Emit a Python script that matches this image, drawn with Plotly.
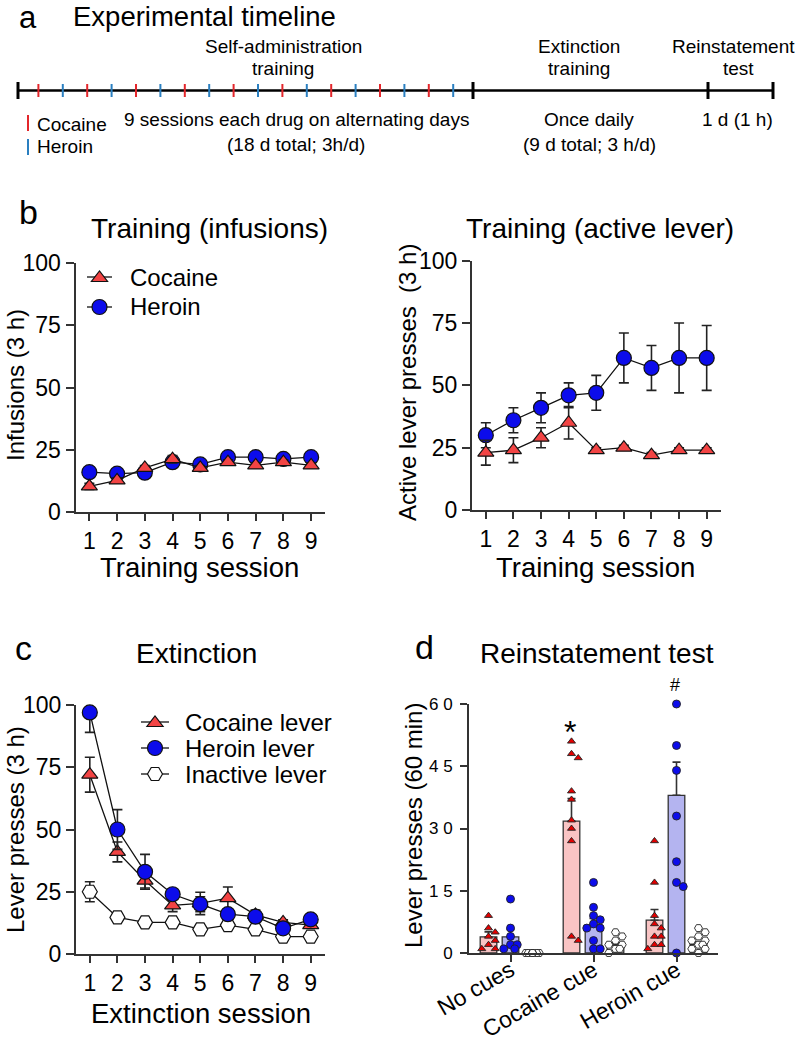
import plotly.graph_objects as go

W, H = 800, 1044


def px(x):
    return x / W


def py(y):
    return 1 - y / H


FONT = "Arial, Liberation Sans, sans-serif"
RED = "#f24444"
RED_D = "#e30000"
BLUE = "#0c0ceb"
AXIS = "#333333"
TL_RED = "#e3262b"
TL_BLUE = "#2a7fc0"

# ---------------- data ----------------
SESSIONS = [1, 2, 3, 4, 5, 6, 7, 8, 9]

# b - training infusions
INF_COCAINE = [10.3, 12.7, 17.7, 21.2, 17.7, 20.0, 18.7, 20.0, 18.7]
INF_COCAINE_SEM = [1.2, 1.0, 1.0, 1.5, 1.0, 1.0, 1.0, 1.0, 1.0]
INF_HEROIN = [16.0, 15.4, 15.8, 20.0, 19.1, 22.0, 22.0, 21.3, 22.0]
INF_HEROIN_SEM = [1.5, 1.2, 1.2, 1.5, 1.2, 1.5, 1.5, 1.5, 1.5]

# b - training active lever
ACT_COCAINE = [23, 24, 29, 35, 24, 25, 22, 24, 24]
ACT_COCAINE_SEM = [5, 5, 4, 6.5, 1, 1, 1, 1, 1]
ACT_HEROIN = [30, 36, 41, 46, 47, 61, 57, 61, 61]
ACT_HEROIN_SEM = [5, 5, 6, 5, 7, 10, 9, 14, 13]

# c - extinction
EXT_COCAINE = [72, 41, 29.5, 19.5, 20.3, 22.4, 15.7, 12.7, 11.6]
EXT_COCAINE_SEM = [7, 4, 3, 2.5, 4.5, 4.5, 2, 1, 1]
EXT_HEROIN = [97, 50, 33, 24, 20, 16, 15, 10.3, 13.9]
EXT_HEROIN_SEM = [8, 8, 7, 2, 3, 2, 2, 1, 1]
EXT_INACTIVE = [25, 14.7, 12.7, 12.7, 9.9, 11.6, 9.9, 7, 7]
EXT_INACTIVE_SEM = [4, 1, 1, 1, 1, 1, 1, 1, 1]

# d - reinstatement test
CUE_CONDITIONS = ["No cues", "Cocaine cue", "Heroin cue"]
REIN_COC_MEAN = [3.9, 31.8, 7.9]
REIN_COC_SEM = [1.2, 5.4, 2.6]
REIN_HER_MEAN = [3.9, 6.8, 38.0]
REIN_HER_SEM = [1.8, 1.5, 8.0]
REIN_INA_MEAN = [0.0, 1.9, 2.1]
REIN_INA_SEM = [0.0, 0.5, 0.6]
REIN_COC_POINTS = [[9, 6, 5, 4, 3, 2, 1, 1],
                   [51, 48, 47, 39, 37, 32, 30, 27, 4, 3],
                   [27, 17, 9, 7, 6, 4, 4, 2, 2, 1]]
REIN_HER_POINTS = [[13, 6, 4, 2, 2, 1, 1],
                   [17, 11, 9, 8, 7, 6, 6, 3, 1, 1],
                   [60, 50, 44, 33, 22, 17, 16, 0]]
REIN_INA_POINTS = [[0, 0, 0, 0, 0, 0, 0, 0, 0],
                   [5, 4, 3, 2, 2, 1, 1, 0],
                   [6, 5, 4, 3, 3, 2, 2, 1, 1, 0]]

# a - timeline
TRAINING_DAYS = list(range(1, 19))
DRUG_BY_DAY = ["Cocaine", "Heroin"] * 9

# ---------------- figure ----------------
fig = go.Figure()


def err(arr, **kw):
    d = dict(type="data", array=arr, color="#222222", thickness=1.6, width=5, visible=True)
    d.update(kw)
    return d


LINE = dict(color="#111111", width=1.3)


def line_trace(x, y, e, symbol, color, size, xa, ya, name):
    return go.Scatter(x=x, y=y, mode="lines+markers", name=name, showlegend=False,
                      line=LINE, cliponaxis=False,
                      marker=dict(symbol=symbol, color=color, size=size,
                                  line=dict(color="#111111", width=1.2)),
                      error_y=err(e), xaxis=xa, yaxis=ya)


# b left
fig.add_trace(line_trace(SESSIONS, INF_HEROIN, INF_HEROIN_SEM, "circle", BLUE, 15, "x", "y", "Heroin"))
fig.add_trace(line_trace(SESSIONS, INF_COCAINE, INF_COCAINE_SEM, "triangle-up", RED, 14, "x", "y", "Cocaine"))
# b right
fig.add_trace(line_trace(SESSIONS, ACT_HEROIN, ACT_HEROIN_SEM, "circle", BLUE, 15, "x2", "y2", "Heroin"))
fig.add_trace(line_trace(SESSIONS, ACT_COCAINE, ACT_COCAINE_SEM, "triangle-up", RED, 14, "x2", "y2", "Cocaine"))
# c
fig.add_trace(line_trace(SESSIONS, EXT_INACTIVE, EXT_INACTIVE_SEM, "hexagon2", "white", 15, "x3", "y3", "Inactive lever"))
fig.add_trace(line_trace(SESSIONS, EXT_COCAINE, EXT_COCAINE_SEM, "triangle-up", RED, 14, "x3", "y3", "Cocaine lever"))
fig.add_trace(line_trace(SESSIONS, EXT_HEROIN, EXT_HEROIN_SEM, "circle", BLUE, 15, "x3", "y3", "Heroin lever"))

# d - bars + points
GROUP_OFFSETS = [-0.265, 0.0, 0.265]
BAR_WIDTH = 0.2
D_YPX = 249 / 60.0   # pixels per unit (y)
D_XPX = 83.0         # pixels per category (x)


def swarm(values, diam=7.0, step=4.2):
    placed, out = [], []
    cands = [0, step, -step, 1.6 * step, -1.6 * step]
    for v in values:
        yv = v * D_YPX
        chosen, best_c, best_d = None, 0, -1
        for c in cands:
            d = min([((c - a) ** 2 + (yv - b) ** 2) ** 0.5 for a, b in placed], default=1e9)
            if d >= diam:
                chosen = c
                break
            if d > best_d:
                best_d, best_c = d, c
        if chosen is None:
            chosen = best_c
        placed.append((chosen, yv))
        out.append(chosen / D_XPX)
    return out


bar_specs = [
    (REIN_COC_MEAN, REIN_COC_SEM, "#f9c4c4", REIN_COC_POINTS, "triangle-up", RED_D, 7, "Cocaine lever"),
    (REIN_HER_MEAN, REIN_HER_SEM, "#b4b4f0", REIN_HER_POINTS, "circle", BLUE, 8, "Heroin lever"),
    (REIN_INA_MEAN, REIN_INA_SEM, "#ffffff", REIN_INA_POINTS, "hexagon2", "white", 8, "Inactive lever"),
]
for k, (mean, sem, fill, pts, sym, mcol, msize, name) in enumerate(bar_specs):
    xs = [i + GROUP_OFFSETS[k] for i in range(len(CUE_CONDITIONS))]
    fig.add_trace(go.Bar(x=xs, y=mean, width=BAR_WIDTH, name=name, showlegend=False,
                         marker=dict(color=fill, line=dict(color="#333333", width=1.3)),
                         error_y=dict(type="data", symmetric=False, array=sem,
                                      arrayminus=[0] * len(sem), color="#333333",
                                      thickness=1.6, width=4),
                         xaxis="x4", yaxis="y4"))
for k, (mean, sem, fill, pts, sym, mcol, msize, name) in enumerate(bar_specs):
    px_all, py_all = [], []
    for i, vals in enumerate(pts):
        offs = swarm(vals)
        px_all += [i + GROUP_OFFSETS[k] + o for o in offs]
        py_all += list(vals)
    fig.add_trace(go.Scatter(x=px_all, y=py_all, mode="markers", showlegend=False, name=name,
                             cliponaxis=False,
                             marker=dict(symbol=sym, size=msize, color=mcol,
                                         line=dict(color="#222222", width=0.9)),
                             xaxis="x4", yaxis="y4"))


# ---------------- axes ----------------
def axis(**kw):
    d = dict(showline=True, linecolor=AXIS, linewidth=2, ticks="outside", ticklen=8,
             tickwidth=2, tickcolor=AXIS, showgrid=False, zeroline=False, automargin=False,
             tickfont=dict(family=FONT, size=23, color="black"), fixedrange=True)
    d.update(kw)
    return d


fig.update_layout(
    xaxis=axis(domain=[px(75.5), px(325)], range=[0.5, 9.5], tickvals=SESSIONS, anchor="y", ticklen=7),
    yaxis=axis(domain=[py(512), py(263)], range=[0, 100], tickvals=[0, 25, 50, 75, 100], anchor="x"),
    xaxis2=axis(domain=[px(472), px(720.5)], range=[0.5, 9.5], tickvals=SESSIONS, anchor="y2", ticklen=7),
    yaxis2=axis(domain=[py(510), py(260.7)], range=[0, 100], tickvals=[0, 25, 50, 75, 100], anchor="x2"),
    xaxis3=axis(domain=[px(76), px(324.5)], range=[0.5, 9.5], tickvals=SESSIONS, anchor="y3", ticklen=7),
    yaxis3=axis(domain=[py(954), py(705)], range=[0, 100], tickvals=[0, 25, 50, 75, 100], anchor="x3"),
    xaxis4=axis(domain=[px(469), px(718)], range=[-0.5, 2.5], tickvals=[0, 1, 2],
                ticktext=CUE_CONDITIONS, tickangle=-30, anchor="y4", ticklen=7,
                ticklabelstandoff=-14),
    yaxis4=axis(domain=[py(953), py(704)], range=[0, 60], tickvals=[0, 15, 30, 45, 60],
                ticktext=["0", "1 5", "3 0", "4 5", "6 0"], anchor="x4", ticklen=7,
                tickfont=dict(family=FONT, size=17, color="black"), ticklabelstandoff=4),
)

# ---------------- shapes (timeline + legend swatches) ----------------
shapes = []
TL_Y = 90.5
TL_LEFT, TL_TRAIN_END, TL_REIN, TL_RIGHT = 18, 473, 708, 773
shapes.append(dict(type="line", xref="paper", yref="paper", x0=px(TL_LEFT), x1=px(TL_RIGHT),
                   y0=py(TL_Y), y1=py(TL_Y), line=dict(color="black", width=2.6)))
for xb in [TL_LEFT, TL_TRAIN_END, TL_REIN, TL_RIGHT]:
    shapes.append(dict(type="line", xref="paper", yref="paper", x0=px(xb), x1=px(xb),
                       y0=py(TL_Y - 8.5), y1=py(TL_Y + 8.5), line=dict(color="black", width=3)))
FIRST_TICK, TICK_STEP = 38.4, 24.4
for d, drug in zip(TRAINING_DAYS, DRUG_BY_DAY):
    xt = FIRST_TICK + (d - 1) * TICK_STEP
    shapes.append(dict(type="line", xref="paper", yref="paper", x0=px(xt), x1=px(xt),
                       y0=py(TL_Y - 6.5), y1=py(TL_Y + 6.5),
                       line=dict(color=TL_RED if drug == "Cocaine" else TL_BLUE, width=2)))
# timeline legend ticks
for yy, col in [(123, TL_RED), (147, TL_BLUE)]:
    shapes.append(dict(type="line", xref="paper", yref="paper", x0=px(28), x1=px(28),
                       y0=py(yy - 8), y1=py(yy + 8), line=dict(color=col, width=2)))


def tri(cx, cy, s, fill):
    r = s / 2
    rt = r * 2 / 3 ** 0.5
    pts = [(cx - rt, cy + r / 2), (cx + rt, cy + r / 2), (cx, cy - r)]
    path = "M " + " L ".join(f"{px(a):.5f},{py(b):.5f}" for a, b in pts) + " Z"
    return dict(type="path", xref="paper", yref="paper", path=path, fillcolor=fill,
                line=dict(color="#111111", width=1.2))


def circ(cx, cy, s, fill):
    r = s / 2
    return dict(type="circle", xref="paper", yref="paper", x0=px(cx - r), x1=px(cx + r),
                y0=py(cy + r), y1=py(cy - r), fillcolor=fill, line=dict(color="#111111", width=1.2))


def hexa(cx, cy, s, fill):
    r = s / 2
    rh, rt = r / 2, r * 3 ** 0.5 / 2
    pts = [(cx - rh, cy + rt), (cx + rh, cy + rt), (cx + r, cy), (cx + rh, cy - rt),
           (cx - rh, cy - rt), (cx - r, cy)]
    path = "M " + " L ".join(f"{px(a):.5f},{py(b):.5f}" for a, b in pts) + " Z"
    return dict(type="path", xref="paper", yref="paper", path=path, fillcolor=fill,
                line=dict(color="#111111", width=1.2))


def swatch_line(x0, x1, y):
    return dict(type="line", xref="paper", yref="paper", x0=px(x0), x1=px(x1), y0=py(y), y1=py(y),
                line=dict(color="#111111", width=1.3))


# b legend
shapes += [swatch_line(87, 112, 277), tri(99.5, 278, 14, RED),
           swatch_line(87, 112, 307), circ(99.5, 307, 15, BLUE)]
# c legend
shapes += [swatch_line(141, 169, 722), tri(155, 723, 14, RED),
           swatch_line(141, 169, 748), circ(155, 748, 15, BLUE),
           swatch_line(141, 169, 774), hexa(155, 774, 15, "white")]

# ---------------- annotations ----------------
ann = []


def text(x, y, s, size, xanchor="center", angle=0, color="black", yanchor="middle"):
    ann.append(dict(x=px(x), y=py(y), xref="paper", yref="paper", text=s, showarrow=False,
                    xanchor=xanchor, yanchor=yanchor, textangle=angle,
                    font=dict(family=FONT, size=size, color=color)))


# panel letters
text(28, 17.5, "a", 31)
text(29, 212, "b", 34)
text(23, 648, "c", 34)
text(424, 647, "d", 34)

# panel a
text(71, 16, "Experimental timeline", 27.5, xanchor="left")
text(283, 46, "Self-administration", 19)
text(283, 68, "training", 19)
text(579, 46, "Extinction", 19)
text(579, 68, "training", 19)
text(733, 46, "Reinstatement", 19)
text(738, 68, "test", 19)
text(296, 120, "9 sessions each drug on alternating days", 19)
text(296, 144, "(18 d total; 3h/d)", 19)
text(589, 120, "Once daily", 19)
text(589, 144, "(9 d total; 3 h/d)", 19)
text(737, 120, "1 d (1 h)", 19)
text(35, 124, "Cocaine", 19, xanchor="left")
text(35, 147, "Heroin", 19, xanchor="left")

# panel titles
text(209, 229, "Training (infusions)", 28)
text(600, 229, "Training (active lever)", 28)
text(196, 653, "Extinction", 28)
text(597, 653, "Reinstatement test", 28)

# axis titles
text(199, 567, "Training session", 27.5)
text(595, 567, "Training session", 27.5)
text(201, 1013, "Extinction session", 27.5)
text(15, 385, "Infusions (3 h)", 24, angle=-90)
text(407, 383, "Active lever presses\u00a0 (3 h)", 24, angle=-90)
text(15, 830, "Lever presses (3 h)", 24, angle=-90)
text(413, 826, "Lever presses (60 min)", 24, angle=-90)

# legends
text(128, 277, "Cocaine", 24, xanchor="left")
text(128, 307, "Heroin", 24, xanchor="left")
text(183, 722, "Cocaine lever", 24, xanchor="left")
text(183, 748, "Heroin lever", 24, xanchor="left")
text(183, 774, "Inactive lever", 24, xanchor="left")

# significance marks
text(570, 732, "*", 32)
text(675, 685, "#", 18)

fig.update_layout(
    width=W, height=H, margin=dict(l=0, r=0, t=0, b=0, autoexpand=False),
    paper_bgcolor="white", plot_bgcolor="white",
    barmode="overlay", showlegend=False,
    shapes=shapes, annotations=ann,
    font=dict(family=FONT, color="black"),
)

fig.write_html("out.html", config={"displayModeBar": False},
               post_script="document.body.style.margin='0px';")
